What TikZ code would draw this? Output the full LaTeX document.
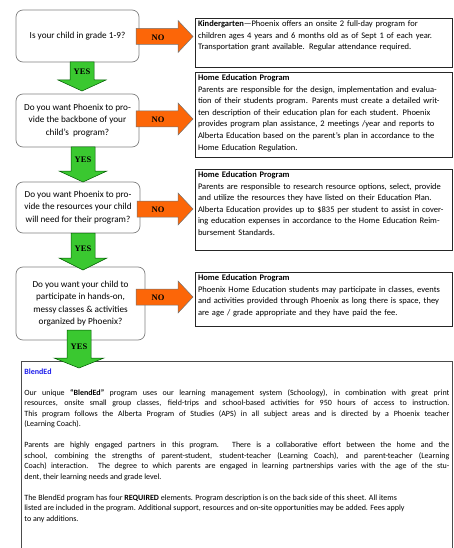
\documentclass[tikz,border=0pt]{standalone}
\usepackage{fontspec}
\setmainfont{Carlito}
\newfontfamily\labelfont{Liberation Serif}
\usetikzlibrary{calc}
\definecolor{noorange}{RGB}{252,102,8}
\definecolor{yesgreen}{RGB}{58,200,48}
\definecolor{blendblue}{RGB}{30,30,235}

\begin{document}
\begin{tikzpicture}[
    x=1pt, y=-1pt,
    question/.style={draw=black!50, line width=0.7pt, rounded corners=7pt,
                     align=center, inner sep=1pt, font=\fontsize{9.2}{12.4}\selectfont},
    infobox/.style={draw=black!85, line width=1pt, anchor=north west, align=left,
                    text width=252pt, inner xsep=2.5pt, inner ysep=2pt, text height=6pt,
                    font=\fontsize{8.5}{11.6}\selectfont},
    blendbox/.style={draw=black!70, line width=0.8pt, anchor=north west, align=justify,
                     text width=425pt, inner xsep=3pt, inner ysep=4pt, text height=9pt,
                     text depth=190pt, font=\fontsize{8}{10.5}\selectfont},
    yesarrow/.style={draw=green!35!black, line width=0.5pt, fill=yesgreen},
    noarrow/.style={draw=black!55, line width=0.5pt, fill=noorange},
    arrowlabel/.style={font=\labelfont\bfseries\fontsize{8.5}{10}\selectfont, inner sep=0pt}
  ]
    \useasboundingbox (0,0) rectangle (454,548);

    % questions
    \node[question, minimum width=123pt, minimum height=52pt] (q1) at (77.5,36)
      {Is your child in grade 1-9?};
    \node[question, minimum width=123pt, minimum height=53pt] (q2) at (77.5,120.5)
      {Do you want Phoenix to pro-\\vide the backbone of your\\child’s\ \ program?};
    \node[question, minimum width=124pt, minimum height=51pt] (q3) at (78,207.5)
      {Do you want Phoenix to pro-\\vide the resources your child\\will need for their program?};
    \node[question, minimum width=129pt, minimum height=73pt] (q4) at (80.5,303.5)
      {Do you want your child to\\participate in hands-on,\\messy classes \& activities\\organized by Phoenix?};

    % answers for NO
    \node[infobox, text depth=39pt] (kinder) at (195,18)
      {\textbf{Kindergarten}—Phoenix offers an onsite 2 full-day program for\\
       children ages 4 years and 6 months old as of Sept 1 of each year.\\
       Transportation grant available. Regular attendance required.};
    \node[infobox, text depth=75pt] (home1) at (195,72)
      {\textbf{Home Education Program}\\
       Parents are responsible for the design, implementation and evalua-\\
       tion of their students program. Parents must create a detailed writ-\\
       ten description of their education plan for each student. Phoenix\\
       provides program plan assistance, 2 meetings /year and reports to\\
       Alberta Education based on the parent’s plan in accordance to the\\
       Home Education Regulation.};
    \node[infobox, text depth=71pt] (home2) at (195,169)
      {\textbf{Home Education Program}\\
       Parents are responsible to research resource options, select, provide\\
       and utilize the resources they have listed on their Education Plan.\\
       Alberta Education provides up to \$835 per student to assist in cover-\\
       ing education expenses in accordance to the Home Education Reim-\\
       bursement Standards.};
    \node[infobox, text depth=44pt] (home3) at (195,272)
      {\textbf{Home Education Program}\\
       Phoenix Home Education students may participate in classes, events\\
       and activities provided through Phoenix as long there is space, they\\
       are age / grade appropriate and they have paid the fee.};

    % BlendEd
    \node[blendbox] (blend) at (21,361)
      {{\color{blendblue}\textbf{BlendEd}}\par\vspace{10.5pt}
       Our unique \textbf{“BlendEd”} program uses our learning management system (Schoology), in combination with great print\linebreak
       resources, onsite small group classes, field-trips and school-based activities for 950 hours of access to instruction.\linebreak
       This program follows the Alberta Program of Studies (APS) in all subject areas and is directed by a Phoenix teacher\linebreak
       (Learning Coach).\par\vspace{10.5pt}
       Parents are highly engaged partners in this program. There is a collaborative effort between the home and the\linebreak
       school, combining the strengths of parent-student, student-teacher (Learning Coach), and parent-teacher (Learning\linebreak
       Coach) interaction. The degree to which parents are engaged in learning partnerships varies with the age of the stu-\linebreak
       dent, their learning needs and grade level.\par\vspace{10.5pt}
       The BlendEd program has four \textbf{REQUIRED} elements. Program description is on the back side of this sheet. All items\newline
       listed are included in the program. Additional support, resources and on-site opportunities may be added. Fees apply\newline
       to any additions.};

    % NO arrows
    \draw[noarrow] (136,28.5) -- (178,28.5) -- (178,20.5) -- (193,36.5) -- (178,52.5) -- (178,44.5) -- (136,44.5) -- cycle;
    \draw[noarrow] (136,111) -- (178,111) -- (178,103) -- (193,119) -- (178,135) -- (178,127) -- (136,127) -- cycle;
    \draw[noarrow] (137,201) -- (178,201) -- (178,193) -- (193,209) -- (178,225) -- (178,217) -- (137,217) -- cycle;
    \draw[noarrow] (136,289) -- (178,289) -- (178,281) -- (193,297) -- (178,313) -- (178,305) -- (136,305) -- cycle;
    \node[arrowlabel] (no1) at (158,38) {NO};
    \node[arrowlabel] (no2) at (158,120) {NO};
    \node[arrowlabel] (no3) at (158,210) {NO};
    \node[arrowlabel] (no4) at (158,298) {NO};

    % YES arrows
    \draw[yesarrow] (70,62) -- (94,62) -- (94,80) -- (106,80) -- (82,91) -- (58,80) -- (70,80) -- cycle;
    \draw[yesarrow] (71,147) -- (95,147) -- (95,171) -- (107,171) -- (83,182) -- (59,171) -- (71,171) -- cycle;
    \draw[yesarrow] (71,233) -- (95,233) -- (95,258) -- (107,258) -- (83,270) -- (59,258) -- (71,258) -- cycle;
    \draw[yesarrow] (67,330) -- (91,330) -- (91,358) -- (104,358) -- (79,368) -- (54,358) -- (67,358) -- cycle;
    \node[arrowlabel] (yes1) at (82,72) {YES};
    \node[arrowlabel] (yes2) at (83,160) {YES};
    \node[arrowlabel] (yes3) at (83,249) {YES};
    \node[arrowlabel] (yes4) at (79,347) {YES};
  \end{tikzpicture}
\end{document}
